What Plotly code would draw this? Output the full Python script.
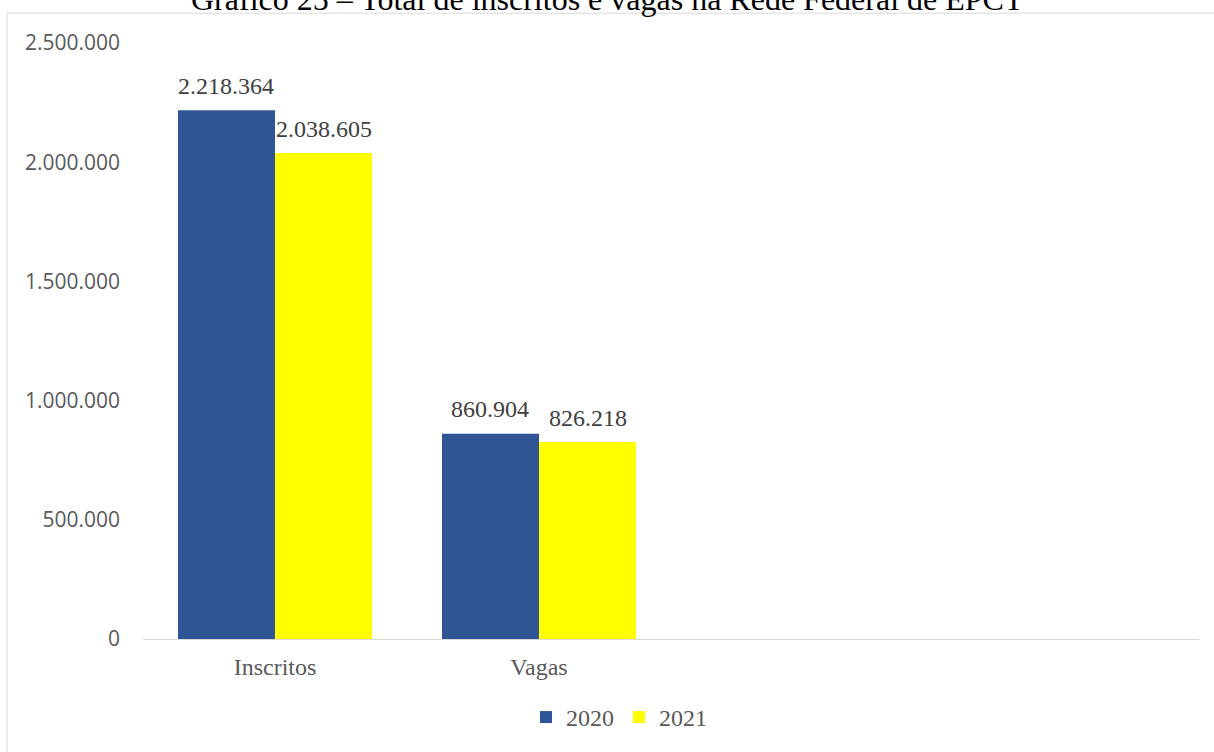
import plotly.graph_objects as go

# Chart data
categories = ["Inscritos", "Vagas"]
series_names = ["2020", "2021"]
values_2020 = [2218364, 860904]
values_2021 = [2038605, 826218]
y_ticks = [0, 500000, 1000000, 1500000, 2000000, 2500000]

title_text = "Gráfico 25 – Total de inscritos e vagas na Rede Federal de EPCT"

colors = {"2020": "#2F5597", "2021": "#FFFF00"}
serif = "Liberation Serif, Times New Roman, serif"
sans = "Open Sans, Segoe UI, sans-serif"

BARGAP = 0.265
n_series = len(series_names)
bar_w = (1 - BARGAP) / n_series


def fmt_br(v):
    return f"{v:,}".replace(",", ".")


fig = go.Figure()
annotations = []
for s_idx, (name, vals) in enumerate(zip(series_names, [values_2020, values_2021])):
    fig.add_trace(go.Bar(
        name=name,
        x=categories,
        y=vals,
        marker=dict(color=colors[name], line=dict(width=0)),
        hoverinfo="x+y+name",
    ))
    # value labels just above each bar
    offset = (s_idx - (n_series - 1) / 2) * bar_w
    for c_idx, v in enumerate(vals):
        annotations.append(dict(
            x=c_idx + offset, y=v, xref="x", yref="y",
            text=fmt_br(v), showarrow=False,
            xanchor="center", yanchor="middle", yshift=24.5,
            font=dict(family=serif, size=24, color="#404040"),
        ))

# chart title (sits at the very top of the page)
annotations.append(dict(
    text=title_text, xref="paper", yref="paper",
    x=(607 - 143) / 1056, y=1.0, xanchor="center", yanchor="middle",
    yshift=44, showarrow=False,
    font=dict(family=serif, size=32, color="#000000"),
))

fig.update_layout(
    width=1214,
    height=752,
    margin=dict(l=143, r=15, t=43, b=109),
    paper_bgcolor="white",
    plot_bgcolor="white",
    separators=",.",
    barmode="group",
    bargap=BARGAP,
    bargroupgap=0,
    showlegend=True,
    legend=dict(
        orientation="h",
        x=(619 - 143) / 1056, xanchor="center",
        y=-79 / 600, yanchor="middle",
        font=dict(family=serif, size=24, color="#595959"),
        itemwidth=30,
        traceorder="normal",
    ),
    xaxis=dict(
        type="category",
        categoryorder="array",
        categoryarray=categories,
        range=[-0.5, 3.5],
        showline=True,
        linecolor="#d9d9d9",
        linewidth=1,
        ticks="",
        showgrid=False,
        ticklabelstandoff=6,
        tickfont=dict(family=serif, size=24, color="#595959"),
        fixedrange=True,
    ),
    yaxis=dict(
        range=[0, 2500000],
        tickvals=y_ticks,
        tickformat=",d",
        showgrid=False,
        zeroline=False,
        showline=False,
        ticks="",
        ticklabelstandoff=22,
        tickfont=dict(family=sans, size=21, color="#595959"),
        fixedrange=True,
    ),
    shapes=[
        # chart frame: runs past the right and bottom page edges
        dict(type="rect", xref="paper", yref="paper",
             x0=(7 - 143) / 1056, x1=(1220 - 143) / 1056,
             y0=(643 - 758) / 600, y1=(643 - 13) / 600,
             line=dict(color="#d9d9d9", width=1), fillcolor="rgba(0,0,0,0)",
             layer="below"),
    ],
    annotations=annotations,
)

fig.write_html("out.html")
